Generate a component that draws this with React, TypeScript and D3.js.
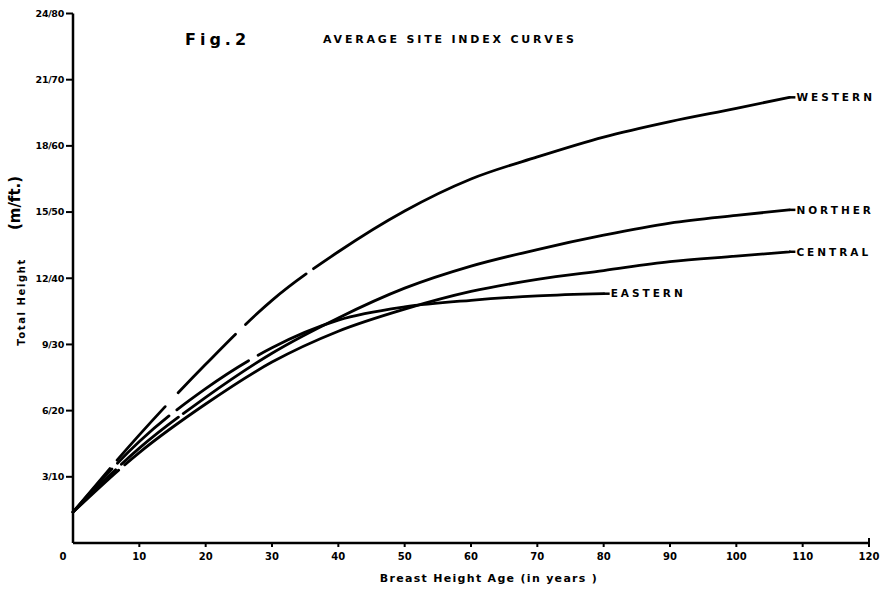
import * as d3 from 'd3';

// ages (years) and heights (m)
const ages = [0, 10, 20, 30, 40, 50, 60, 70, 80, 90, 100, 108];
const westernHeights = [1.4, 4.9, 8.1, 11.0, 13.2, 15.05, 16.5, 17.5, 18.4, 19.1, 19.7, 20.2];
const northernHeights = [1.4, 4.3, 6.6, 8.6, 10.2, 11.55, 12.55, 13.3, 13.95, 14.5, 14.85, 15.1];
const centralHeights = [1.4, 4.1, 6.3, 8.2, 9.6, 10.6, 11.4, 11.95, 12.35, 12.75, 13.0, 13.2];
const easternAges = [0, 10, 20, 30, 40, 50, 60, 70, 80];
const easternHeights = [1.4, 4.6, 7.0, 8.85, 10.1, 10.7, 11.0, 11.2, 11.3];

const xTicks = [0, 10, 20, 30, 40, 50, 60, 70, 80, 90, 100, 110, 120];
const yTicks = [3, 6, 9, 12, 15, 18, 21, 24];
const yTickLabels = ['3/10', '6/20', '9/30', '12/40', '15/50', '18/60', '21/70', '24/80'];

// broken strokes of the hand drawn curves
const dashStyle: Record<string, string> = {
  WESTERN: '57,11,72,19,82,14,79,9,3000',
  NORTHER: '60,8,74,6,3000',
  CENTRAL: '62,8,3000',
  EASTERN: '58,8,70,10,87,11,3000',
};

const font = "'DejaVu Sans', Verdana, sans-serif";

export default function App() {
  const width = 882, height = 594;
  const x = d3.scaleLinear().domain([0, 120]).range([73, 869]);
  const y = d3.scaleLinear().domain([0, 24]).range([543, 13.5]);

  const line = d3.line<[number, number]>()
    .x(d => x(d[0]))
    .y(d => y(d[1]))
    .curve(d3.curveMonotoneX);

  const series = [
    { name: 'WESTERN', pts: ages.map((a, i) => [a, westernHeights[i]] as [number, number]) },
    { name: 'NORTHER', pts: ages.map((a, i) => [a, northernHeights[i]] as [number, number]) },
    { name: 'CENTRAL', pts: ages.map((a, i) => [a, centralHeights[i]] as [number, number]) },
    { name: 'EASTERN', pts: easternAges.map((a, i) => [a, easternHeights[i]] as [number, number]) },
  ];

  return (
    <svg width={width} height={height} style={{ position: 'absolute', left: 0, top: 0, background: '#fff' }}>
      {/* axes */}
      <line x1={x(0)} x2={x(0)} y1={y(24)} y2={y(0)} stroke="#000" strokeWidth={2.5} />
      <line x1={x(0)} x2={x(120)} y1={y(0)} y2={y(0)} stroke="#000" strokeWidth={2.5} />
      <line x1={x(120)} x2={x(120)} y1={y(0) - 5} y2={y(0) + 4} stroke="#000" strokeWidth={2} />

      {yTicks.map((t, i) => (
        <g key={t}>
          <line x1={x(0) - 7} x2={x(0)} y1={y(t)} y2={y(t)} stroke="#000" strokeWidth={2} />
          <text x={x(0) - 9} y={y(t)} dy="0.35em" textAnchor="end" fontFamily={font}
            fontWeight="bold" fontSize={9.5} letterSpacing={-0.3}>{yTickLabels[i]}</text>
        </g>
      ))}

      {xTicks.map(t => (
        <g key={t}>
          {t > 0 && t < 120 && (
            <line x1={x(t)} x2={x(t)} y1={y(0)} y2={y(0) + 4} stroke="#000" strokeWidth={2} />
          )}
          <text x={t === 0 ? x(0) - 10 : x(t)} y={y(0) + 17} textAnchor="middle" fontFamily={font}
            fontWeight="bold" fontSize={10}>{t}</text>
        </g>
      ))}

      {/* curves */}
      {series.map(s => {
        const last = s.pts[s.pts.length - 1];
        return (
          <g key={s.name}>
            <path d={line(s.pts) || ''} fill="none" stroke="#000" strokeWidth={2.8}
              strokeDasharray={dashStyle[s.name]} strokeLinecap="round" />
            <line x1={x(last[0])} x2={x(last[0]) + 6} y1={y(last[1])} y2={y(last[1])} stroke="#000" strokeWidth={2.5} />
            <text x={x(last[0]) + 7} y={y(last[1])} dy="0.36em" fontFamily={font} fontWeight="bold"
              fontSize={10.5} letterSpacing={3}>{s.name}</text>
          </g>
        );
      })}

      {/* titles */}
      <text x={185} y={45} fontFamily={font} fontWeight="bold" fontSize={16} letterSpacing={4}>Fig.2</text>
      <text x={323} y={43} fontFamily={font} fontWeight="bold" fontSize={11} letterSpacing={2.8}>AVERAGE SITE INDEX CURVES</text>

      <text x={489} y={582} textAnchor="middle" fontFamily={font} fontWeight="bold" fontSize={11} letterSpacing={1.3}>
        Breast Height Age (in years )
      </text>

      <text transform="translate(25,302) rotate(-90)" textAnchor="middle" fontFamily={font}
        fontWeight="bold" fontSize={10} letterSpacing={1.6}>Total Height</text>
      <text transform="translate(20,203) rotate(-90)" textAnchor="middle" fontFamily={font}
        fontWeight="bold" fontSize={15}>(m/ft.)</text>
    </svg>
  );
}
